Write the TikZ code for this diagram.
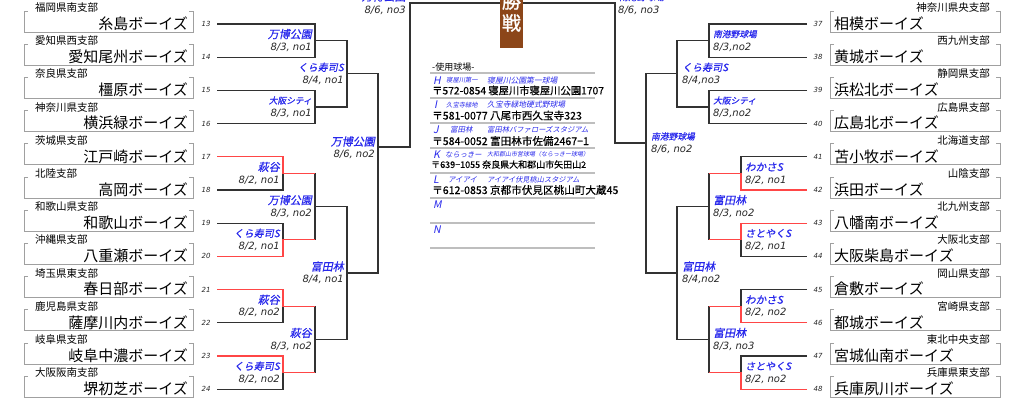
\documentclass[tikz,border=0pt]{standalone}
\usepackage{fontspec}
\setmainfont{Noto Sans CJK JP}
\newfontfamily\jp{Noto Sans CJK JP}
\newfontfamily\jpsl[FakeSlant=0.2]{Noto Sans CJK JP}
\newfontfamily\jpbs[FakeSlant=0.2,FakeBold=0.6]{Noto Sans CJK JP}
\newfontfamily\jpbd[FakeBold=0.5]{Noto Sans CJK JP}
\newfontfamily\jpwb[FakeBold=1.2]{Noto Sans CJK JP}
\newfontfamily\dv{DejaVu Sans}
\usetikzlibrary{calc}
\definecolor{vblue}{RGB}{40,40,235}
\definecolor{brk}{RGB}{50,50,50}
\definecolor{rline}{RGB}{255,70,70}
\definecolor{bgray}{RGB}{160,160,160}
\definecolor{brownbox}{RGB}{140,70,25}
\definecolor{tgray}{RGB}{190,190,190}
\tikzset{
  bk/.style={draw=brk, line width=1.2pt},
  rd/.style={draw=rline, line width=1.2pt},
  boxline/.style={draw=bgray, line width=0.9pt},
  tline/.style={draw=tgray, line width=1.3pt},
  venue/.style={text=vblue, inner sep=0pt},
  datel/.style={text=black!85, font=\dv\itshape\fontsize{10}{10}\selectfont, inner sep=0pt},
  team/.style={font=\jp\fontsize{15}{15}\selectfont, inner sep=0pt},
  pref/.style={font=\jp\fontsize{10.5}{10.5}\selectfont, inner sep=0pt},
  numl/.style={font=\dv\itshape\fontsize{7}{7}\selectfont, inner sep=0pt, text=black!85},
  tletter/.style={text=vblue, font=\jpsl\fontsize{10.5}{10.5}\selectfont, inner sep=0pt, anchor=west},
  tvenue/.style={text=vblue, inner sep=0pt, anchor=west},
  taddr/.style={inner sep=0pt, anchor=west},
}
\newcommand\Llab[6]{%
  \node[venue,anchor=east,font=\jpbs\fontsize{#3}{#3}\selectfont] (v#1) at ($(#2)+(-3,-6.5)$) {#4};
  \node[datel,anchor=east] (d#1) at ($(#2)+(-3,6.5)$) {#5};}
\newcommand\Rlab[6]{%
  \node[venue,anchor=west,font=\jpbs\fontsize{#3}{#3}\selectfont] (v#1) at ($(#2)+(#6,-6.5)$) {#4};
  \node[datel,anchor=west] (d#1) at ($(#2)+(#6,6.5)$) {#5};}
\newcommand\afont[1]{\jpbd\fontsize{#1}{#1}\selectfont}
\begin{document}
\begin{tikzpicture}[x=1pt,y=-1pt]
\useasboundingbox (0,0) rectangle (1024,401);

% ---------- left teams ----------
\foreach \k/\nn/\pp/\tn in {0/13/福岡県南支部/糸島ボーイズ,1/14/愛知県西支部/愛知尾州ボーイズ,2/15/奈良県支部/橿原ボーイズ,3/16/神奈川県支部/横浜緑ボーイズ,4/17/茨城県支部/江戸崎ボーイズ,5/18/北陸支部/高岡ボーイズ,6/19/和歌山県支部/和歌山ボーイズ,7/20/沖縄県支部/八重瀬ボーイズ,8/21/埼玉県東支部/春日部ボーイズ,9/22/鹿児島県支部/薩摩川内ボーイズ,10/23/岐阜県支部/岐阜中濃ボーイズ,11/24/大阪阪南支部/堺初芝ボーイズ}{
  \pgfmathsetmacro\yy{24+33.2*\k}
  \draw[boxline] (28,{\yy-13}) -- (24,{\yy-13}) -- (24,{\yy+8}) -- (193,{\yy+8}) -- (193,{\yy-13}) -- (189,{\yy-13});
  \node[pref,anchor=west] (pL\nn) at (35,{\yy-16.5}) {\pp};
  \node[team,anchor=east] (L\nn) at (188,{\yy-0.5}) {\tn};
  \node[numl] (nL\nn) at (206,\yy) {\nn};
  \coordinate (eL\nn) at (217,\yy);
}
% ---------- right teams ----------
\foreach \k/\nn/\pp/\tn in {0/37/神奈川県央支部/相模ボーイズ,1/38/西九州支部/黄城ボーイズ,2/39/静岡県支部/浜松北ボーイズ,3/40/広島県支部/広島北ボーイズ,4/41/北海道支部/苫小牧ボーイズ,5/42/山陰支部/浜田ボーイズ,6/43/北九州支部/八幡南ボーイズ,7/44/大阪北支部/大阪柴島ボーイズ,8/45/岡山県支部/倉敷ボーイズ,9/46/宮崎県支部/都城ボーイズ,10/47/東北中央支部/宮城仙南ボーイズ,11/48/兵庫県東支部/兵庫夙川ボーイズ}{
  \pgfmathsetmacro\yy{24+33.2*\k}
  \draw[boxline] (834,{\yy-13}) -- (830,{\yy-13}) -- (830,{\yy+8}) -- (1000,{\yy+8}) -- (1000,{\yy-13}) -- (996,{\yy-13});
  \node[pref,anchor=east] (pR\nn) at (990,{\yy-16.5}) {\pp};
  \node[team,anchor=west] (R\nn) at (834,{\yy-0.5}) {\tn};
  \node[numl] (nR\nn) at (818,\yy) {\nn};
  \coordinate (eR\nn) at (807,\yy);
}

% ---------- match points ----------
\coordinate (A1) at (283,173.4);
\coordinate (A2) at (283,239.8);
\coordinate (A3) at (283,306.2);
\coordinate (A4) at (283,372.6);
\coordinate (B1) at (315,40.6);
\coordinate (B2) at (315,107);
\coordinate (B3) at (315,206.6);
\coordinate (B4) at (315,339.4);
\coordinate (C1) at (347,73.8);
\coordinate (C2) at (347,273);
\coordinate (D) at (378,147);
\coordinate (F) at (410,3);
\coordinate (RA1) at (741,173.4);
\coordinate (RA2) at (741,239.8);
\coordinate (RA3) at (741,306.2);
\coordinate (RA4) at (741,372.6);
\coordinate (RB1) at (709,40.6);
\coordinate (RB2) at (709,107);
\coordinate (RB3) at (709,206.6);
\coordinate (RB4) at (709,339.4);
\coordinate (RC1) at (677,73.8);
\coordinate (RC2) at (677,273);
\coordinate (RD) at (646,143);
\coordinate (RF) at (615,3);

% ---------- left bracket ----------
\draw[bk] (eL13) -| (B1) |- (eL14);
\draw[bk] (eL15) -| (B2) |- (eL16);
\draw[bk] (A1) |- (eL18);
\draw[bk] (eL19) -| (A2);
\draw[bk] (A3) |- (eL22);
\draw[bk] (A4) |- (eL24);
\draw[bk] (B3 |- A1) -- (B3 |- A2);
\draw[bk] (B4 |- A3) -- (B4 |- A4);
\draw[bk] (B1) -| (C1) |- (B2);
\draw[bk] (B3) -| (C2) |- (B4);
\draw[bk] (C1) -| (D) |- (C2);
\draw[bk] (D) -| (F) -- (RF) |- (RD);
\draw[rd] (eL17) -| (A1) -- (B3 |- A1);
\draw[rd] (eL20) -| (A2) -- (B3 |- A2);
\draw[rd] (eL21) -| (A3) -- (B4 |- A3);
\draw[rd] (eL23) -| (A4) -- (B4 |- A4);

% ---------- right bracket ----------
\draw[bk] (eR37) -| (RB1) |- (eR38);
\draw[bk] (eR39) -| (RB2) |- (eR40);
\draw[bk] (eR41) -| (RA1);
\draw[bk] (RA2) |- (eR44);
\draw[bk] (eR45) -| (RA3);
\draw[bk] (eR47) -| (RA4);
\draw[bk] (RB3 |- RA1) -- (RB3 |- RA2);
\draw[bk] (RB4 |- RA3) -- (RB4 |- RA4);
\draw[bk] (RB1) -| (RC1) |- (RB2);
\draw[bk] (RB3) -| (RC2) |- (RB4);
\draw[bk] (RC1) -| (RD) |- (RC2);
\draw[rd] (eR42) -| (RA1) -- (RB3 |- RA1);
\draw[rd] (eR43) -| (RA2) -- (RB3 |- RA2);
\draw[rd] (eR46) -| (RA3) -- (RB4 |- RA3);
\draw[rd] (eR48) -| (RA4) -- (RB4 |- RA4);

% ---------- labels left ----------
\Llab{B1}{B1}{11}{万博公園}{8/3, no1}{}
\Llab{B2}{B2}{8.7}{大阪シティ}{8/3, no1}{}
\Llab{C1}{C1}{10}{くら寿司S}{8/4, no1}{}
\Llab{A1}{A1}{11}{萩谷}{8/2, no1}{}
\Llab{B3}{B3}{11}{万博公園}{8/3, no2}{}
\Llab{A2}{A2}{10}{くら寿司S}{8/2, no1}{}
\Llab{C2}{C2}{11}{富田林}{8/4, no1}{}
\Llab{A3}{A3}{11}{萩谷}{8/2, no2}{}
\Llab{B4}{B4}{11}{萩谷}{8/3, no2}{}
\Llab{A4}{A4}{10}{くら寿司S}{8/2, no2}{}
\node[venue,anchor=east,font=\jpbs\fontsize{11}{11}\selectfont] (vD) at (375,141.5) {万博公園};
\node[datel,anchor=east] (dD) at (375,154.5) {8/6, no2};
\node[venue,anchor=east,font=\jpbs\fontsize{11}{11}\selectfont] (vF) at (406,-3.5) {万博公園};
\node[datel,anchor=east] (dF) at (406,10) {8/6, no3};

% ---------- labels right ----------
\Rlab{RB1}{RB1}{8.7}{南港野球場}{8/3,no2}{4}
\Rlab{RB2}{RB2}{8.7}{大阪シティ}{8/3,no2}{4}
\Rlab{RC1}{RC1}{10}{くら寿司S}{8/4,no3}{5}
\Rlab{RD}{RD}{8.7}{南港野球場}{8/6, no2}{5}
\Rlab{RA1}{RA1}{10.5}{わかさS}{8/2, no1}{4}
\Rlab{RB3}{RB3}{11}{富田林}{8/3, no2}{4}
\Rlab{RA2}{RA2}{10}{さとやくS}{8/2, no1}{4}
\Rlab{RC2}{RC2}{11}{富田林}{8/4,no2}{5}
\Rlab{RA3}{RA3}{10.5}{わかさS}{8/2, no2}{4}
\Rlab{RB4}{RB4}{11}{富田林}{8/3, no3}{4}
\Rlab{RA4}{RA4}{10}{さとやくS}{8/2, no2}{4}
\node[venue,anchor=west,font=\jpbs\fontsize{9}{9}\selectfont] (vRF) at (619,-3) {南港野球場};
\node[datel,anchor=west] (dRF) at (618,10) {8/6, no3};

% ---------- final title ----------
\fill[brownbox] (500,-45) rectangle (523,48);
\node[text=white, font=\jpwb\fontsize{19}{19}\selectfont, inner sep=0pt] (tk1) at (511.5,-21) {決};
\node[text=white, font=\jpwb\fontsize{19}{19}\selectfont, inner sep=0pt] (tk2) at (511.5,1) {勝};
\node[text=white, font=\jpwb\fontsize{19}{19}\selectfont, inner sep=0pt] (tk3) at (511.5,23) {戦};

% ---------- venue table ----------
\node[font=\jp\fontsize{9}{9}\selectfont, inner sep=0pt, anchor=west] (ttl) at (432,67) {-使用球場-};
\foreach \yl in {73,98,123,148,173,198,223,248}{
  \draw[tline] (430,\yl) -- (595,\yl);
}
\node[tletter] (hH) at (433,80.5) {H};
\node[tvenue,font=\jpsl\fontsize{6.3}{6.3}\selectfont] (sH) at (446,80.5) {寝屋川第一};
\node[tvenue,font=\jpsl\fontsize{7.8}{7.8}\selectfont] (lH) at (487,80.5) {寝屋川公園第一球場};
\node[taddr,font=\afont{10.3}] (aH) at (432,90.5) {〒572-0854 寝屋川市寝屋川公園1707};

\node[tletter] (hI) at (434,105) {I};
\node[tvenue,font=\jpsl\fontsize{6.3}{6.3}\selectfont] (sI) at (446,105) {久宝寺緑地};
\node[tvenue,font=\jpsl\fontsize{7.8}{7.8}\selectfont] (lI) at (487,105) {久宝寺緑地硬式野球場};
\node[taddr,font=\afont{10.6}] (aI) at (432,115.5) {〒581-0077 八尾市西久宝寺323};

\node[tletter] (hJ) at (433,130) {J};
\node[tvenue,font=\jpsl\fontsize{7.5}{7.5}\selectfont] (sJ) at (450,130) {富田林};
\node[tvenue,font=\jpsl\fontsize{7.3}{7.3}\selectfont] (lJ) at (487,130) {富田林バファローズスタジアム};
\node[taddr,font=\afont{10.6}] (aJ) at (432,141) {〒584-0052 富田林市佐備2467−1};

\node[tletter] (hK) at (433,154.5) {K};
\node[tvenue,font=\jpsl\fontsize{7.3}{7.3}\selectfont] (sK) at (445,154.5) {ならっきー};
\node[tvenue,font=\jpsl\fontsize{6}{6}\selectfont] (lK) at (487,154.5) {大和郡山市営球場（ならっきー球場）};
\node[taddr,font=\afont{9}] (aK) at (431,164.5) {〒639−1055 奈良県大和郡山市矢田山2};

\node[tletter] (hL) at (433,179.5) {L};
\node[tvenue,font=\jpsl\fontsize{7.4}{7.4}\selectfont] (sL) at (448,179.5) {アイアイ};
\node[tvenue,font=\jpsl\fontsize{7.2}{7.2}\selectfont] (lL) at (487,179.5) {アイアイ伏見桃山スタジアム};
\node[taddr,font=\afont{10.6}] (aL) at (432,190) {〒612-0853 京都市伏見区桃山町大蔵45};

\node[tletter] (hM) at (433,205) {M};
\node[tletter] (hN) at (433,230) {N};
\end{tikzpicture}
\end{document}
